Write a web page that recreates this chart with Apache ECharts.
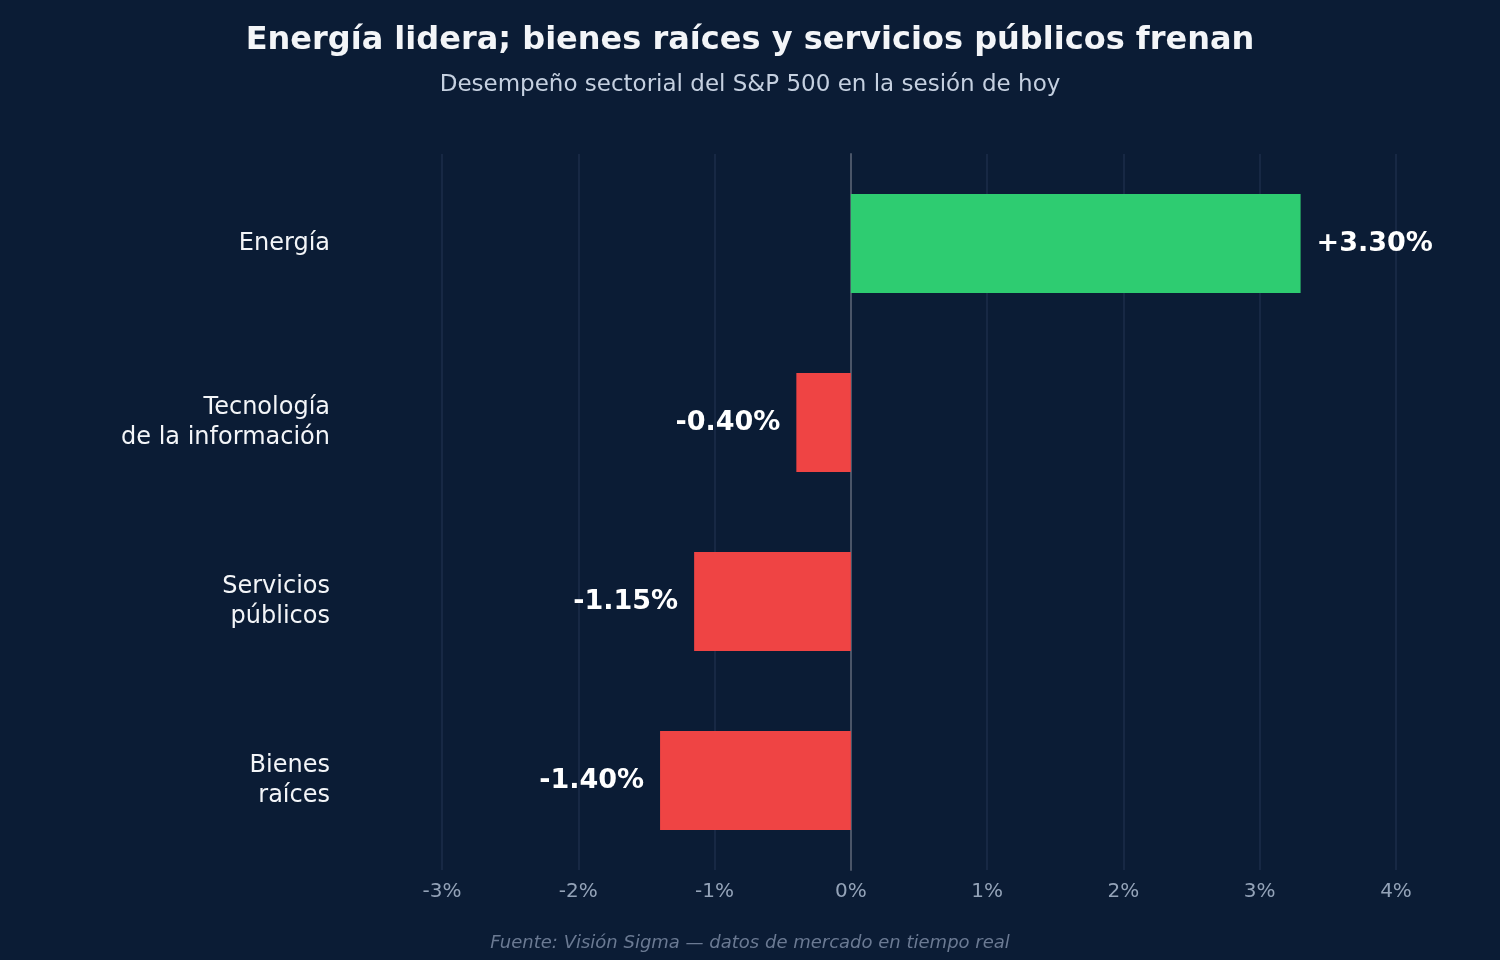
<!DOCTYPE html>
<html><head><meta charset="utf-8">
<script src="https://cdn.jsdelivr.net/npm/echarts@6/dist/echarts.min.js"></script>
<style>html,body{margin:0;background:#0b1c35}#c{width:1500px;height:960px}</style>
</head><body><div id="c"></div>
<script>
const categories = ['Energía', 'Tecnología\nde la información', 'Servicios\npúblicos', 'Bienes\nraíces'];
const values = [3.30, -0.40, -1.15, -1.40];
const xTicks = [-3, -2, -1, 0, 1, 2, 3, 4];

const chart = echarts.init(document.getElementById('c'));
const F = 'DejaVu Sans';
chart.setOption({
  backgroundColor: '#0b1c35',
  title: [
    {text: 'Energía lidera; bienes raíces y servicios públicos frenan', left: 'center', top: 20,
     textStyle: {color: '#f3f5f8', fontSize: 32, fontWeight: 'bold', fontFamily: F}},
    {text: 'Desempeño sectorial del S&P 500 en la sesión de hoy', left: 'center', top: 69,
     textStyle: {color: '#c5d0e0', fontSize: 23, fontWeight: 'normal', fontFamily: F}},
    {text: 'Fuente: Visión Sigma — datos de mercado en tiempo real', left: 'center', top: 929,
     textStyle: {color: '#6b7a93', fontSize: 18, fontStyle: 'italic', fontWeight: 'normal', fontFamily: F}}
  ],
  grid: {left: 442, right: 104, top: 154, bottom: 90},
  xAxis: {type: 'value', min: xTicks[0], max: xTicks[xTicks.length - 1], interval: 1,
    axisLabel: {formatter: v => v + '%', color: '#94a3b8', fontSize: 20, fontFamily: F, margin: 12},
    splitLine: {lineStyle: {color: '#1c2d4a', width: 1.5}},
    axisLine: {show: false}, axisTick: {show: false}},
  yAxis: {type: 'category', data: categories, inverse: true,
    axisLine: {show: true, onZero: true, lineStyle: {color: '#4a5568', width: 2}},
    axisTick: {show: false},
    axisLabel: {color: '#f3f5f8', fontSize: 24, fontFamily: F, margin: 112, align: 'right', lineHeight: 30}},
  series: [{type: 'bar', barWidth: 99,
    data: values.map(v => ({value: v, itemStyle: {color: v >= 0 ? '#2ecc71' : '#ef4444'},
      label: {position: v >= 0 ? 'right' : 'left'}})),
    label: {show: true, distance: 16, color: '#ffffff', fontSize: 27, fontWeight: 'bold', fontFamily: F,
      formatter: p => (p.value >= 0 ? '+' : '') + p.value.toFixed(2) + '%'}
  }]
});
</script></body></html>
